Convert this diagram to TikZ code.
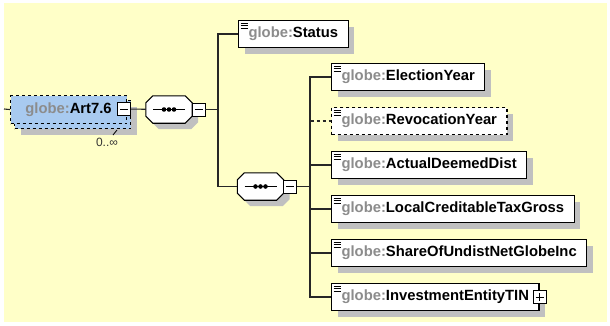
\documentclass[tikz,border=0pt]{standalone}
\usepackage{fontspec}
\setmainfont{Liberation Sans}
\usetikzlibrary{positioning}

\definecolor{bgyellow}{RGB}{255,255,200}
\definecolor{shadowgray}{RGB}{192,192,192}
\definecolor{nsgray}{RGB}{140,140,140}
\definecolor{artblue}{RGB}{168,202,240}
\newcommand\elemfont{\bfseries\fontsize{14.8}{16}\selectfont}
\newcommand\globe[1]{\textcolor{nsgray}{globe:}#1}

\tikzset{
  conn/.style={draw=black!85, line width=1.1pt},
  dropgray/.style={preaction={fill=shadowgray, draw=none, transform canvas={xshift=6pt, yshift=-6pt}}},
  elem/.style={draw, fill=white, line width=1.1pt, anchor=west, minimum height=27pt,
    inner xsep=10pt, inner ysep=0pt, font=\elemfont, dropgray,
    path picture={
      \foreach \d in {2.5,5,7.5}
        \draw[line width=0.8pt, solid] ([shift={(2pt,-\d pt)}]path picture bounding box.north west) -- ++(7pt,0);
    }},
  optelem/.style={elem, dashed},
  artbox/.style={draw, dashed, fill=artblue, line width=1.1pt, anchor=north west,
    minimum width=116pt, minimum height=28pt, inner sep=0pt, font=\elemfont},
  seq/.style={minimum width=46pt, minimum height=27pt, inner sep=0pt},
  seqline/.style={draw, fill=white, line width=1.1pt, dropgray},
  tog/.style={draw, fill=white, line width=0.9pt, minimum size=13pt, inner sep=0pt},
  minus/.style={tog, path picture={
      \draw[line width=0.9pt] ([xshift=-4pt]path picture bounding box.center) -- ([xshift=4pt]path picture bounding box.center);
    }},
  plus/.style={tog, path picture={
      \draw[line width=0.9pt] ([xshift=-4pt]path picture bounding box.center) -- ([xshift=4pt]path picture bounding box.center);
      \draw[line width=0.9pt] ([yshift=-4pt]path picture bounding box.center) -- ([yshift=4pt]path picture bounding box.center);
    }}
}

\begin{document}
\begin{tikzpicture}[x=1pt, y=-1pt]
  \useasboundingbox (0,0) rectangle (610,325);
  \fill[bgyellow] (4,3) rectangle (607,322);

  % repeated root element
  \node[artbox, dropgray] (artback) at (14,100) {};
  \node[artbox] (art) at (10,95) {\globe{Art7.6}};
  \node[font=\fontsize{12}{14}\selectfont, text=black!80] (artocc) at (107,142) {0..∞};
  \draw[line width=0.8pt] (113,135) -- (117,130);
  \coordinate (artin) at (4,109);
  \draw[conn] (artin) -- (art.west);

  % sequence compositors
  \node[seq] (seqa) at (169,109.5) {};
  \node[seq] (seqb) at (260.5,186.5) {};
  \foreach \s in {seqa,seqb}{
    \path[seqline] ([xshift=7pt]\s.north west) -- ([xshift=-7pt]\s.north east)
      -- ([yshift=-7pt]\s.north east) -- ([yshift=7pt]\s.south east)
      -- ([xshift=-7pt]\s.south east) -- ([xshift=7pt]\s.south west)
      -- ([yshift=7pt]\s.south west) -- ([yshift=-7pt]\s.north west) -- cycle;
    \draw[line width=1pt] ([xshift=-16pt]\s.center) -- ([xshift=16pt]\s.center);
    \foreach \dx in {-5,0,5}
      \fill ([xshift=\dx pt]\s.center) circle (2.3pt);
  }
  \node[minus] (arttog) at (124,109) {};
  \node[minus] (seqatog) at (198.5,109.5) {};
  \node[minus] (seqbtog) at (290,186.5) {};
  \draw[conn] (arttog) -- (seqa);
  \coordinate (busa) at (218,109.5);
  \draw[conn] (seqatog) -- (busa);

  \node[elem] (status) at (238,34) {\globe{Status}};
  \draw[conn] (busa) |- (status.west);
  \draw[conn] (busa) |- (seqb.west);

  % children of the second sequence
  \coordinate (busb) at (310,186.5);
  \draw[conn] (seqbtog) -- (busb);
  \foreach \nm/\txt/\y/\st/\ln in {
      elyear/ElectionYear/77/elem/solid,
      revyear/RevocationYear/121/optelem/dashed,
      deemed/ActualDeemedDist/165/elem/solid,
      taxgross/LocalCreditableTaxGross/209/elem/solid,
      undist/ShareOfUndistNetGlobeInc/253/elem/solid,
      invest/InvestmentEntityTIN\hspace{6pt}/297/elem/solid}{
      \node[\st] (\nm) at (331,\y) {\globe{\txt}};
      \draw[conn, \ln] (busb) |- (\nm.west);
    }
  \node[plus] (investtog) at (invest.east) {};
\end{tikzpicture}
\end{document}
